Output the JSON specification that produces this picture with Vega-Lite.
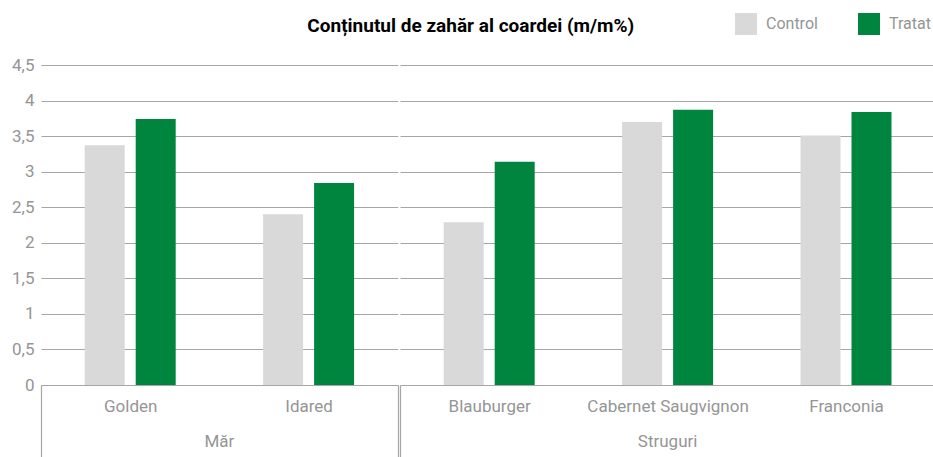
{
  "$schema": "https://vega.github.io/schema/vega-lite/v6.json",
  "padding": {"left": 0, "top": 13, "right": 0, "bottom": 0},
  "background": "white",
  "title": {
    "text": "Conținutul de zahăr al coardei (m/m%)",
    "font": "Roboto",
    "fontSize": 19,
    "fontWeight": "bold",
    "color": "#000000",
    "anchor": "middle",
    "offset": -38,
    "baseline": "alphabetic",
    "dx": 3
  },
  "data": {
    "values": [
      {"grup": "Măr", "soi": "Golden", "tratament": "Control", "valoare": 3.37},
      {"grup": "Măr", "soi": "Golden", "tratament": "Tratat", "valoare": 3.74},
      {"grup": "Măr", "soi": "Idared", "tratament": "Control", "valoare": 2.40},
      {"grup": "Măr", "soi": "Idared", "tratament": "Tratat", "valoare": 2.84},
      {"grup": "Struguri", "soi": "Blauburger", "tratament": "Control", "valoare": 2.29},
      {"grup": "Struguri", "soi": "Blauburger", "tratament": "Tratat", "valoare": 3.14},
      {"grup": "Struguri", "soi": "Cabernet Saugvignon", "tratament": "Control", "valoare": 3.70},
      {"grup": "Struguri", "soi": "Cabernet Saugvignon", "tratament": "Tratat", "valoare": 3.87},
      {"grup": "Struguri", "soi": "Franconia", "tratament": "Control", "valoare": 3.51},
      {"grup": "Struguri", "soi": "Franconia", "tratament": "Tratat", "valoare": 3.84}
    ]
  },
  "facet": {
    "column": {
      "field": "grup",
      "type": "nominal",
      "sort": ["Măr", "Struguri"],
      "header": {
        "title": null,
        "labelOrient": "bottom",
        "labelFont": "Roboto",
        "labelFontSize": 17,
        "labelColor": "#959595",
        "labelPadding": -24
      }
    }
  },
  "spacing": 0,
  "resolve": {"scale": {"x": "independent"}},
  "spec": {
    "width": {"step": 178.4, "for": "position"},
    "height": 320,
    "mark": {"type": "bar"},
    "encoding": {
      "x": {
        "field": "soi",
        "type": "nominal",
        "sort": ["Golden", "Idared", "Blauburger", "Cabernet Saugvignon", "Franconia"],
        "scale": {"paddingInner": 0, "paddingOuter": 0},
        "axis": {
          "title": null,
          "labelAngle": 0,
          "domain": false,
          "ticks": true,
          "tickBand": "extent",
          "tickSize": 72,
          "tickColor": "#a6a6a6",
          "tickWidth": 1.2,
          "tickOpacity": {"condition": {"test": "datum.index < 0 || datum.value === 'Idared' || datum.value === 'Franconia'", "value": 1}, "value": 0},
          "labelPadding": -59,
          "labelFont": "Roboto",
          "labelFontSize": 17,
          "labelColor": "#959595"
        }
      },
      "xOffset": {
        "field": "tratament",
        "type": "nominal",
        "sort": ["Control", "Tratat"],
        "scale": {"range": [0, 178.4], "paddingInner": 0.2157, "paddingOuter": 0.857}
      },
      "y": {
        "field": "valoare",
        "type": "quantitative",
        "scale": {"domain": [0, 4.5], "nice": false},
        "axis": {
          "title": null,
          "values": [0, 0.5, 1, 1.5, 2, 2.5, 3, 3.5, 4, 4.5],
          "format": ".1~f",
          "labelExpr": "replace(datum.label, '.', ',')",
          "domain": false,
          "ticks": false,
          "grid": true,
          "gridColor": "#a6a6a6",
          "gridWidth": 1.2,
          "labelPadding": 6,
          "minExtent": 40,
          "maxExtent": 40,
          "labelFont": "Roboto",
          "labelFontSize": 17,
          "labelColor": "#959595"
        }
      },
      "color": {
        "field": "tratament",
        "type": "nominal",
        "scale": {"domain": ["Control", "Tratat"], "range": ["#d9d9d9", "#00853f"]},
        "legend": {
          "title": null,
          "orient": "none",
          "legendX": 694,
          "legendY": -52,
          "direction": "horizontal",
          "symbolType": "square",
          "symbolSize": 484,
          "symbolStrokeWidth": 0,
          "symbolOpacity": 1,
          "labelFont": "Roboto",
          "labelFontSize": 16,
          "labelColor": "#959595",
          "labelOffset": 9,
          "columnPadding": 40,
          "padding": 0
        }
      }
    }
  },
  "config": {
    "font": "Roboto",
    "view": {"stroke": null}
  }
}
